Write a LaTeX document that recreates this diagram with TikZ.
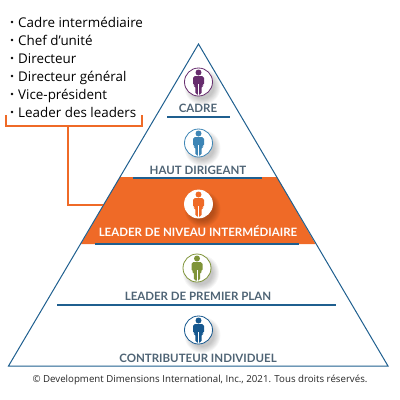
\documentclass[tikz,border=0pt]{standalone}
\usepackage{fontspec}
\setmainfont{Open Sans}
\newfontfamily\labelfont{Lato}
\definecolor{navyline}{HTML}{1F5F8F}
\definecolor{bandorange}{HTML}{EF6A27}
\definecolor{labelgrey}{HTML}{4F6475}
\definecolor{execpurple}{HTML}{672D6E}
\definecolor{seniorblue}{HTML}{3D85B5}
\definecolor{firstgreen}{HTML}{7F9439}
\definecolor{contribblue}{HTML}{16588F}
\tikzset{
  badge/.style={circle,draw=#1,fill=white,line width=0.8pt,minimum size=28pt,inner sep=0pt},
  tierlabel/.style={font=\labelfont\bfseries\fontsize{11.5}{13}\selectfont,text=labelgrey,inner sep=0pt,anchor=base},
  tierline/.style={navyline,line width=1.5pt},
  listitem/.style={font=\fontsize{13.4}{15}\selectfont,anchor=base west,inner sep=0pt}
}
% badge with soft shadow and standing figure
\newcommand{\tierbadge}[5]{
  \foreach \r in {12,13,14,15,16,17,18}
    \fill[black,opacity=0.035] (#2+4,#3+5) circle (\r pt);
  \node[badge=#4] (#1) at (#2,#3) {};
  \begin{scope}[shift={(#1.center)},x=1pt,y=-1pt]
    \fill[#5] (0,-9.5) circle (3pt);
    \fill[#5,rounded corners=1.8pt] (-5.5,-6) -- (5.5,-6) -- (5.5,3.5) -- (3.2,3.5)
      -- (3.2,12.5) -- (-3.2,12.5) -- (-3.2,3.5) -- (-5.5,3.5) -- cycle;
    \draw[white,line width=0.5pt] (0,2) -- (0,12.5);
  \end{scope}
}
\begin{document}
\begin{tikzpicture}[x=1pt,y=-1pt]
  \useasboundingbox (0,0) rectangle (400,400);
  % band
  \coordinate (bandTL) at (120,177);
  \coordinate (bandTR) at (277,177);
  \coordinate (bandBR) at (315.5,244);
  \coordinate (bandBL) at (81,244);
  \coordinate (bandhook) at (103,205);
  \fill[bandorange] (bandTL) -- (bandTR) -- (bandBR) -- (bandBL) -- cycle;
  % pyramid
  \coordinate (apex) at (198.5,44);
  \coordinate (baseL) at (8.5,366);
  \coordinate (baseR) at (388,366);
  \draw[navyline,line width=1pt,line join=miter] (apex) -- (baseR) -- (baseL) -- cycle;
  \draw[tierline] (167,117) -- (230,117);
  \draw[tierline] (133,178) -- (262,178);
  \draw[tierline] (95,244) -- (299,244);
  \draw[tierline] (57,305) -- (336,305);
  % badges
  \tierbadge{exec}{198.5}{82}{execpurple}{execpurple}
  \tierbadge{senior}{198.5}{143}{seniorblue}{seniorblue}
  \tierbadge{mid}{198.5}{204}{white}{bandorange}
  \tierbadge{first}{197}{268}{firstgreen}{firstgreen}
  \tierbadge{contrib}{198.5}{330}{contribblue}{contribblue}
  % labels
  \node[tierlabel] (lexec) at (198,112) {CADRE};
  \node[tierlabel] (lsenior) at (198,174) {HAUT DIRIGEANT};
  \node[tierlabel,text=white] (lmid) at (198,236) {LEADER DE NIVEAU INTERMÉDIAIRE};
  \node[tierlabel] (lfirst) at (198,300) {LEADER DE PREMIER PLAN};
  \node[tierlabel] (lcontrib) at (198,362) {CONTRIBUTEUR INDIVIDUEL};
  % list
  \foreach \i/\y/\txt in {1/22/Cadre intermédiaire,2/40/Chef d'unité,3/58/Directeur,
      4/76/Directeur général,5/94/Vice-président,6/112/Leader des leaders}{
    \node[listitem] (item\i) at (18,\y+5) {\txt};
    \fill (12,\y) circle (1.3pt);
  }
  % bracket and connector
  \coordinate (brL) at (6,115);
  \coordinate (brR) at (142,115);
  \coordinate (brM) at (68,126);
  \draw[bandorange,line width=1.3pt] (brL) -- (6,126) -- (142,126) -- (brR);
  \draw[bandorange,line width=1.3pt] (brM) -- (68,205) -- (bandhook);
  \node[inner sep=0pt,anchor=base,font=\fontsize{9.7}{11}\selectfont,text=black!85] (copy) at (200,382)
    {© Development Dimensions International, Inc., 2021. Tous droits réservés.};
\end{tikzpicture}
\end{document}
